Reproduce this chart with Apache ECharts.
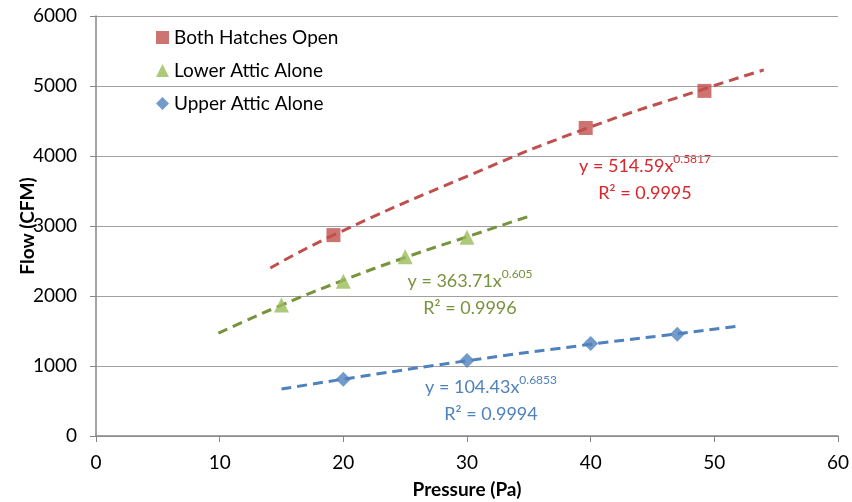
<!DOCTYPE html>
<html>
<head>
<meta charset="utf-8">
<script src="https://cdn.jsdelivr.net/npm/echarts@6/dist/echarts.min.js"></script>
<style>
  html, body { margin: 0; padding: 0; background: #fff; }
  #chart { width: 852px; height: 502px; }
</style>
</head>
<body>
<div id="chart"></div>
<script>
// measured points
const bothHatches = [[19.2, 2870], [39.6, 4400], [49.2, 4930]];
const lowerAttic = [[15, 1870], [20, 2210], [25, 2560], [30, 2840]];
const upperAttic = [[20, 810], [30, 1080], [40, 1320], [47, 1455]];

// trendlines
const bothTrend = [[14.1, 2400], [19.2, 2870], [30, 3710], [39.6, 4390], [49.2, 4960], [54, 5230]];
const lowerTrend = [[9.9, 1470], [15, 1870], [20, 2225], [25, 2550], [30, 2845], [35.2, 3150]];
const upperTrend = [[15, 670], [20, 812], [30, 1075], [40, 1310], [47, 1460], [51.9, 1570]];

const seriesNames = ['Both Hatches Open', 'Lower Attic Alone', 'Upper Attic Alone'];
const markerColors = ['#C0504D', '#9BBB59', '#4F81BD'];
const trendColors = ['#C0504D', '#77933C', '#4F81BD'];
const labelColors = ['#D9252A', '#77933C', '#4F81BD'];
const equations = [['514.59', '0.5817', '0.9995'], ['363.71', '0.605', '0.9996'], ['104.43', '0.6853', '0.9994']];

const font = 'Lato, "Open Sans", sans-serif';
const chart = echarts.init(document.getElementById('chart'));

function trendSeries(data, color) {
  return {
    type: 'line', data: data, smooth: true, symbol: 'none', silent: true,
    lineStyle: {color: color, width: 3, type: [10, 6]}, z: 1
  };
}

// two centred lines: equation with superscript, then R²
function eqText(i, cx, cy) {
  const e = equations[i];
  const c = labelColors[i];
  return [{
    type: 'text', x: cx, y: cy,
    style: {
      text: '{a|y = ' + e[0] + 'x}{s|' + e[1] + '}',
      align: 'center', verticalAlign: 'middle',
      rich: {
        a: {fontSize: 18, fontFamily: font, fill: c},
        s: {fontSize: 12, fontFamily: font, fill: c, padding: [0, 0, 14, 0]}
      }
    }
  }, {
    type: 'text', x: cx, y: cy + 27,
    style: {
      text: 'R² = ' + e[2], align: 'center', verticalAlign: 'middle',
      fontSize: 18, fontFamily: font, fill: c
    }
  }];
}

chart.setOption({
  animation: false,
  grid: {left: 96, right: 14, top: 16, bottom: 66, outerBoundsMode: 'none', containLabel: false},
  legend: {
    orient: 'vertical', left: 151, top: 23, itemGap: 14,
    itemWidth: 13, itemHeight: 13,
    data: seriesNames,
    textStyle: {fontSize: 19, fontFamily: font, color: '#000'}
  },
  xAxis: {
    type: 'value', min: 0, max: 60, interval: 10,
    name: 'Pressure (Pa)', nameLocation: 'middle', nameGap: 44, nameMoveOverlap: false,
    nameTextStyle: {fontSize: 19, fontWeight: 'bold', fontFamily: font, color: '#000'},
    axisLine: {show: true, lineStyle: {color: '#868686', width: 1.5}},
    axisTick: {show: true, length: 6, lineStyle: {color: '#868686'}},
    axisLabel: {fontSize: 19, fontFamily: font, color: '#000', margin: 17},
    splitLine: {show: false}
  },
  yAxis: {
    type: 'value', min: 0, max: 6000, interval: 1000,
    name: 'Flow (CFM)', nameLocation: 'middle', nameGap: 59, nameMoveOverlap: false,
    nameTextStyle: {fontSize: 19, fontWeight: 'bold', fontFamily: font, color: '#000'},
    axisLine: {show: true, lineStyle: {color: '#868686', width: 1.5}},
    axisTick: {show: true, length: 6, lineStyle: {color: '#868686'}},
    axisLabel: {fontSize: 19, fontFamily: font, color: '#000', margin: 19, formatter: v => String(v)},
    splitLine: {show: true, lineStyle: {color: '#A0A0A0', width: 1.2}}
  },
  series: [
    trendSeries(bothTrend, trendColors[0]),
    trendSeries(lowerTrend, trendColors[1]),
    trendSeries(upperTrend, trendColors[2]),
    {name: seriesNames[0], type: 'scatter', data: bothHatches, symbol: 'rect', symbolSize: 14,
      itemStyle: {color: markerColors[0]}, z: 3},
    {name: seriesNames[1], type: 'scatter', data: lowerAttic, symbol: 'triangle', symbolSize: 15,
      itemStyle: {color: markerColors[1]}, z: 3},
    {name: seriesNames[2], type: 'scatter', data: upperAttic, symbol: 'diamond', symbolSize: 15,
      itemStyle: {color: markerColors[2]}, z: 3}
  ],
  graphic: [].concat(
    eqText(0, 645, 166),
    eqText(1, 470, 281),
    eqText(2, 491, 387)
  )
});
</script>
</body>
</html>
